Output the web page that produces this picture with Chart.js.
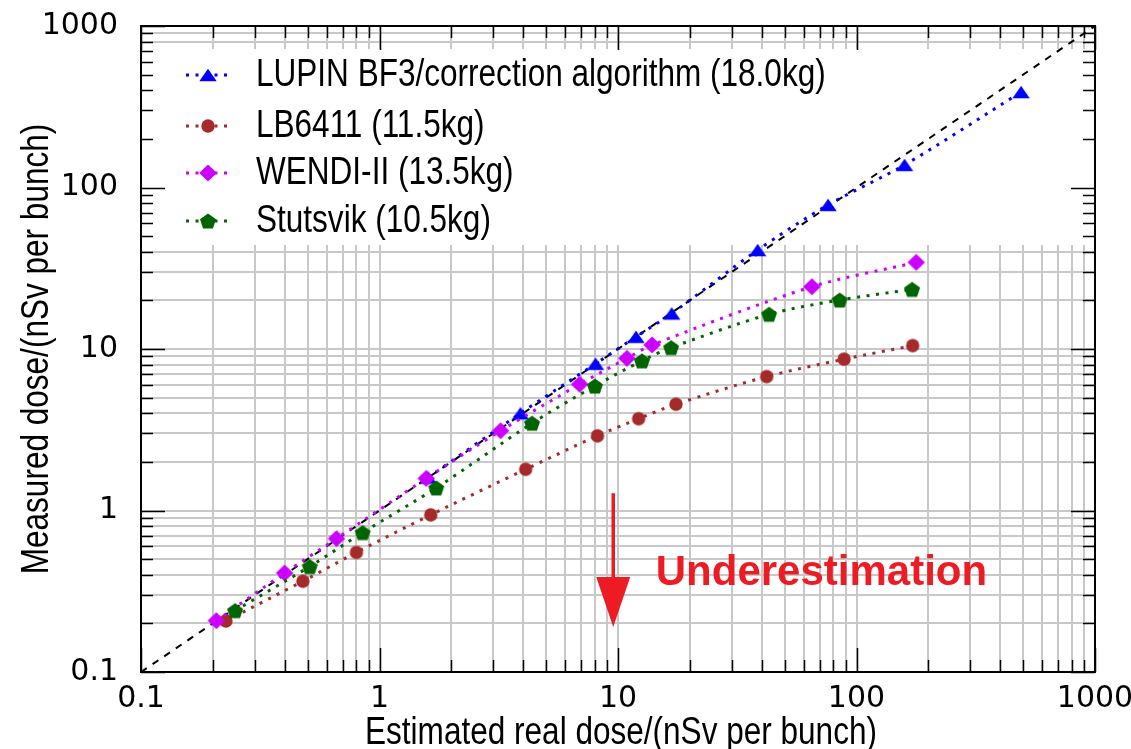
<!DOCTYPE html>
<html>
<head>
<meta charset="utf-8">
<title>Measured vs estimated dose</title>
<script src="https://cdn.jsdelivr.net/npm/chart.js@4.4.1/dist/chart.umd.min.js"></script>
<style>
  html, body { margin: 0; padding: 0; background: #fff; }
</style>
</head>
<body>
<canvas id="doseChart" width="1131" height="749"></canvas>
<script>
// estimated real dose (x) against measured dose (y), nSv per bunch
const lupinX = [1.6, 3.9, 8.05, 11.9, 16.8, 38.5, 76, 159, 490];
const lupinY = [1.6, 4.0, 8.1, 11.9, 16.6, 41, 78, 138, 390];

const lb6411X = [0.227, 0.477, 0.80, 1.64, 4.1, 8.2, 12.2, 17.5, 42, 88.7, 172];
const lb6411Y = [0.207, 0.365, 0.55, 0.94, 1.8, 2.9, 3.7, 4.55, 6.75, 8.65, 10.5];

const wendiX = [0.207, 0.40, 0.66, 1.57, 3.22, 6.9, 10.9, 13.9, 65, 178];
const wendiY = [0.208, 0.41, 0.67, 1.58, 3.12, 6.05, 8.75, 10.6, 24.3, 34.4];

const stutsvikX = [0.248, 0.51, 0.85, 1.73, 4.36, 8.0, 12.6, 16.7, 43, 85, 171];
const stutsvikY = [0.24, 0.45, 0.73, 1.38, 3.47, 5.9, 8.45, 10.2, 16.4, 20.1, 23.4];

const seriesNames = [
  'LUPIN BF3/correction algorithm (18.0kg)',
  'LB6411 (11.5kg)',
  'WENDI-II (13.5kg)',
  'Stutsvik (10.5kg)'
];

// labelled decades on both axes
const tickValues = [0.1, 1, 10, 100, 1000];
const tickLabels = ['0.1', '1', '10', '100', '1000'];

const xTitle = 'Estimated real dose/(nSv per bunch)';
const yTitle = 'Measured dose/(nSv per bunch)';
const noteText = 'Underestimation';

const TEXT_FONT = '38px "Liberation Sans", Arial, sans-serif';
const NARROW = 0.83;   // horizontal squeeze for the legend / title lettering
const TICK_FONT = '"DejaVu Sans", Verdana, sans-serif';

// 1..9 x 10^n lines for the log grid
const gridValues = [];
for (let e = -1; e < 3; e++) {
  for (let m = 1; m < 10; m++) gridValues.push(m * Math.pow(10, e));
}
gridValues.push(1000);

function isDecade(v) {
  return Math.abs(Math.log10(v) - Math.round(Math.log10(v))) < 1e-9;
}

function labelFor(v) {
  const i = tickValues.findIndex(t => Math.abs(Math.log10(t) - Math.log10(v)) < 1e-9);
  return i >= 0 ? tickLabels[i] : '';
}

function marker(shape, color) {
  const c = document.createElement('canvas');
  c.width = 22; c.height = 22;
  const g = c.getContext('2d');
  const cx = 11, cy = 11;
  g.fillStyle = color;
  g.beginPath();
  if (shape === 'triangle') {
    g.moveTo(cx, cy - 6.2);
    g.lineTo(cx + 8.7, cy + 6.2);
    g.lineTo(cx - 8.7, cy + 6.2);
  } else if (shape === 'circle') {
    g.arc(cx, cy, 6.7, 0, Math.PI * 2);
  } else if (shape === 'diamond') {
    g.moveTo(cx, cy - 8.5);
    g.lineTo(cx + 8.8, cy);
    g.lineTo(cx, cy + 8.5);
    g.lineTo(cx - 8.8, cy);
  } else if (shape === 'pentagon') {
    const R = 8.4;
    const oy = cy + 0.0955 * R;
    for (let k = 0; k < 5; k++) {
      const a = -Math.PI / 2 + k * 2 * Math.PI / 5;
      const px = cx + R * Math.cos(a), py = oy + R * Math.sin(a);
      if (k === 0) g.moveTo(px, py); else g.lineTo(px, py);
    }
  }
  g.closePath();
  g.fill();
  return c;
}

function pairs(xs, ys) {
  return xs.map((x, i) => ({ x: x, y: ys[i] }));
}

function series(name, xs, ys, color, shape, order) {
  return {
    label: name,
    data: pairs(xs, ys),
    borderColor: color,
    backgroundColor: color,
    borderWidth: 3,
    borderDash: [3, 6.5],
    borderCapStyle: 'butt',
    tension: 0.3,
    pointStyle: marker(shape, color),
    pointRadius: 8,
    order: order
  };
}

const datasets = [
  series(seriesNames[0], lupinX, lupinY, 'rgb(0,0,255)', 'triangle', 4),
  series(seriesNames[1], lb6411X, lb6411Y, 'rgb(165,42,42)', 'circle', 3),
  series(seriesNames[2], wendiX, wendiY, 'rgb(204,0,255)', 'diamond', 2),
  series(seriesNames[3], stutsvikX, stutsvikY, 'rgb(0,100,0)', 'pentagon', 1),
  {
    label: 'y = x',
    data: [{ x: 0.1, y: 0.1 }, { x: 1000, y: 1000 }],
    borderColor: '#000',
    borderWidth: 2,
    borderDash: [7, 7],
    pointRadius: 0,
    order: 5
  }
];

// squeezed lettering, drawn at (x, y) with the given alignment
function narrowText(ctx, text, x, y, align) {
  ctx.save();
  ctx.font = TEXT_FONT;
  ctx.textBaseline = 'middle';
  ctx.textAlign = align;
  ctx.translate(x, y);
  ctx.scale(NARROW, 1);
  ctx.fillText(text, 0, 0);
  ctx.restore();
}

// legend block sits inside the plot, hiding the grid behind it
const legendBox = { top: 23, bottom: 219 };

const decorations = {
  id: 'decorations',
  beforeDatasetsDraw(chart) {
    const { ctx, chartArea: a } = chart;
    ctx.save();
    ctx.fillStyle = '#fff';
    ctx.fillRect(a.left + 1, a.top + legendBox.top, a.right - a.left - 2, legendBox.bottom - legendBox.top);
    ctx.restore();
  },
  afterDraw(chart) {
    const { ctx, chartArea: a, scales } = chart;
    const xs = scales.x, ys = scales.y;
    ctx.save();

    // inward ticks on all four sides
    ctx.strokeStyle = '#000';
    ctx.lineWidth = 1.5;
    ctx.beginPath();
    gridValues.forEach(v => {
      const len = isDecade(v) ? 24 : 12;
      const px = Math.round(xs.getPixelForValue(v)) + 0.5;
      ctx.moveTo(px, a.bottom); ctx.lineTo(px, a.bottom - len);
      ctx.moveTo(px, a.top); ctx.lineTo(px, a.top + len);
      const py = Math.round(ys.getPixelForValue(v)) + 0.5;
      ctx.moveTo(a.left, py); ctx.lineTo(a.left + len, py);
      ctx.moveTo(a.right, py); ctx.lineTo(a.right - len, py);
    });
    ctx.stroke();

    // frame
    ctx.lineWidth = 2;
    ctx.strokeRect(a.left, a.top, a.right - a.left, a.bottom - a.top);

    // legend entries
    const rowY = [49, 100, 147, 195];
    chart.data.datasets.slice(0, 4).forEach((ds, i) => {
      const y = a.top + rowY[i];
      ctx.save();
      ctx.strokeStyle = ds.borderColor;
      ctx.lineWidth = ds.borderWidth;
      ctx.setLineDash(ds.borderDash);
      ctx.beginPath();
      ctx.moveTo(a.left + 45, y);
      ctx.lineTo(a.left + 92, y);
      ctx.stroke();
      ctx.restore();
      const img = ds.pointStyle;
      ctx.drawImage(img, a.left + 67 - img.width / 2, y - img.height / 2);
      ctx.fillStyle = '#000';
      narrowText(ctx, ds.label, a.left + 115, y + 1, 'left');
    });

    // axis titles
    ctx.fillStyle = '#000';
    narrowText(ctx, xTitle, (a.left + a.right) / 2 + 3, 734, 'center');
    ctx.save();
    ctx.translate(38, (a.top + a.bottom) / 2);
    ctx.rotate(-Math.PI / 2);
    narrowText(ctx, yTitle, 0, 0, 'center');
    ctx.restore();

    // underestimation arrow and note
    const red = 'rgb(237,28,36)';
    const ax = xs.getPixelForValue(9.55);
    const yTop = ys.getPixelForValue(1.28);
    const yHead = ys.getPixelForValue(0.387);
    const yTip = ys.getPixelForValue(0.19);
    ctx.strokeStyle = red;
    ctx.fillStyle = red;
    ctx.lineWidth = 3.5;
    ctx.beginPath();
    ctx.moveTo(ax, yTop);
    ctx.lineTo(ax, yHead + 2);
    ctx.stroke();
    ctx.beginPath();
    ctx.moveTo(ax - 17, yHead);
    ctx.lineTo(ax + 17, yHead);
    ctx.lineTo(ax, yTip);
    ctx.closePath();
    ctx.fill();
    ctx.font = 'bold 42px "Liberation Sans", Arial, sans-serif';
    ctx.textAlign = 'left';
    ctx.textBaseline = 'middle';
    ctx.fillText(noteText, xs.getPixelForValue(14.4), ys.getPixelForValue(0.405));

    ctx.restore();
  }
};

function logAxis(position, extra) {
  return Object.assign({
    type: 'logarithmic',
    position: position,
    min: 0.1,
    max: 1000,
    afterBuildTicks(scale) {
      scale.ticks = gridValues.map(v => ({ value: v, major: isDecade(v) }));
    },
    grid: { color: 'rgb(200,200,200)', lineWidth: 2, drawTicks: false },
    border: { display: false }
  }, extra);
}

const ctx = document.getElementById('doseChart').getContext('2d');
const doseChart = new Chart(ctx, {
  type: 'line',
  data: { datasets: datasets },
  options: {
    responsive: false,
    animation: false,
    devicePixelRatio: 1,
    layout: { padding: { top: 26, right: 36, left: 0, bottom: 0 } },
    plugins: { legend: { display: false }, tooltip: { enabled: false } },
    scales: {
      x: logAxis('bottom', {
        afterFit(scale) {
          scale.height = 749 - 672;
          scale.paddingLeft = 0;
          scale.paddingRight = 0;
        },
        ticks: {
          autoSkip: false, maxRotation: 0, color: '#000', padding: 9,
          font: { family: TICK_FONT, size: 30 },
          callback: (v) => labelFor(v)
        }
      }),
      y: logAxis('left', {
        afterFit(scale) {
          scale.width = 141;
          scale.paddingTop = 0;
          scale.paddingBottom = 0;
        },
        ticks: {
          autoSkip: false, color: '#000', padding: 23,
          font: { family: TICK_FONT, size: 30 },
          callback: (v) => labelFor(v)
        }
      })
    }
  },
  plugins: [decorations]
});
</script>
</body>
</html>
